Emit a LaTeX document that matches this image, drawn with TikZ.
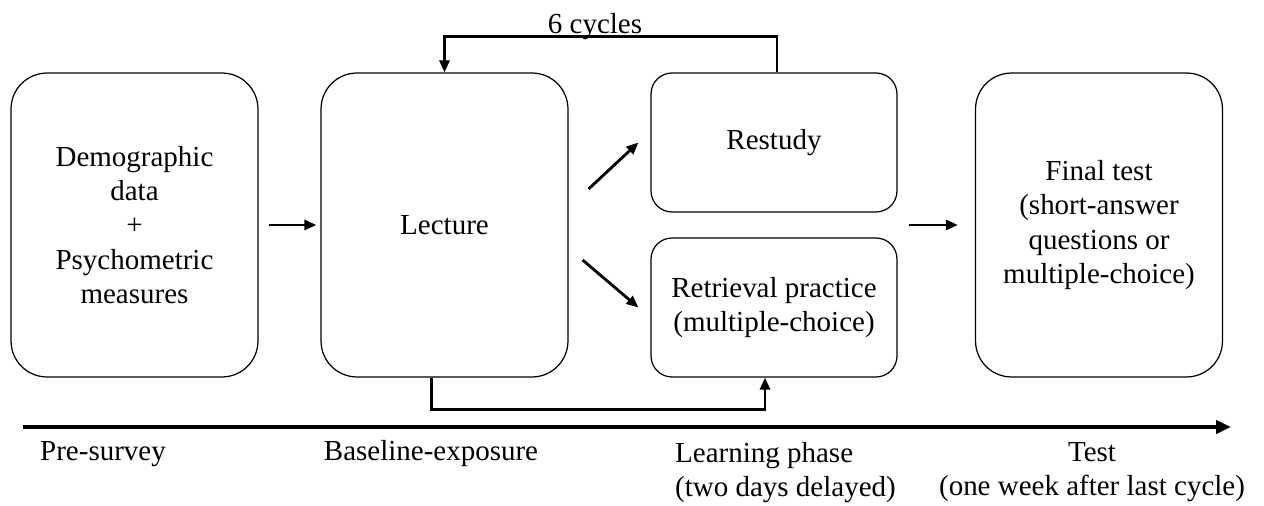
\documentclass[tikz,border=0pt]{standalone}
\usepackage{fontspec}
\setmainfont{Liberation Serif}
\usetikzlibrary{arrows.meta}

\begin{document}
\begin{tikzpicture}[x=0.02cm,y=-0.02cm,
	font=\fontsize{16.5}{19.5}\selectfont,
	bigbox/.style={draw, rounded corners=0.72cm, line width=0.7pt, minimum width=4.94cm, minimum height=6.08cm, align=center, inner sep=0pt},
	smallbox/.style={draw, rounded corners=0.42cm, line width=0.7pt, minimum width=4.92cm, minimum height=2.78cm, align=center, inner sep=0pt},
	conn/.style={line width=1.6pt, -{Triangle[length=0.24cm,width=0.2cm]}},
	axis/.style={line width=2.2pt, -{Triangle[length=0.3cm,width=0.26cm]}}]
	\useasboundingbox (0,0) rectangle (1264,506);
	\node (demo) at (134.5,225)	[bigbox]	{Demographic\\data\\+\\Psychometric\\measures};
	\node (lecture) at (444.5,225)	[bigbox]	{Lecture};
	\node (restudy) at (774,142.5)	[smallbox]	{Restudy};
	\node (retrieval) at (774,307.5)	[smallbox]	{Retrieval practice\\(multiple-choice)};
	\node (final) at (1099,225)	[bigbox]	{Final test\\(short-answer\\questions or\\multiple-choice)};
	\node (cycles) at (595,34)	[anchor=base]	{6 cycles};
	\coordinate (axisL) at (23,427);
	\coordinate (axisR) at (1231,427);
	\node (pre) at (103,460)	[anchor=base]	{Pre-survey};
	\node (basel) at (431,460)	[anchor=base]	{Baseline-exposure};
	\node (learn) at (669,436)	[anchor=north west, align=left]	{Learning phase\\(two days delayed)};
	\node (test) at (1092,436)	[anchor=north, align=center]	{Test\\(one week after last cycle)};
	\draw[conn] ([shift={(10,0)}]demo.east) -- ([shift={(-4,0)}]lecture.west);
	\draw[conn] ([shift={(20,-36)}]lecture.east) -- ([shift={(-12,0)}]restudy.west);
	\draw[conn] ([shift={(14,35)}]lecture.east) -- ([shift={(-12,0)}]retrieval.west);
	\draw[conn] ([shift={(-66,0)}]final.west) -- ([shift={(-17,0)}]final.west);
	\draw[conn] ([shift={(3,0)}]restudy.north) -- ++(0,-36) -| (lecture.north);
	\draw[conn] ([shift={(-13,0)}]lecture.south) -- ++(0,32) -| ([shift={(-9,0)}]retrieval.south);
	\draw[axis] (axisL) -- (axisR);
\end{tikzpicture}
\end{document}
